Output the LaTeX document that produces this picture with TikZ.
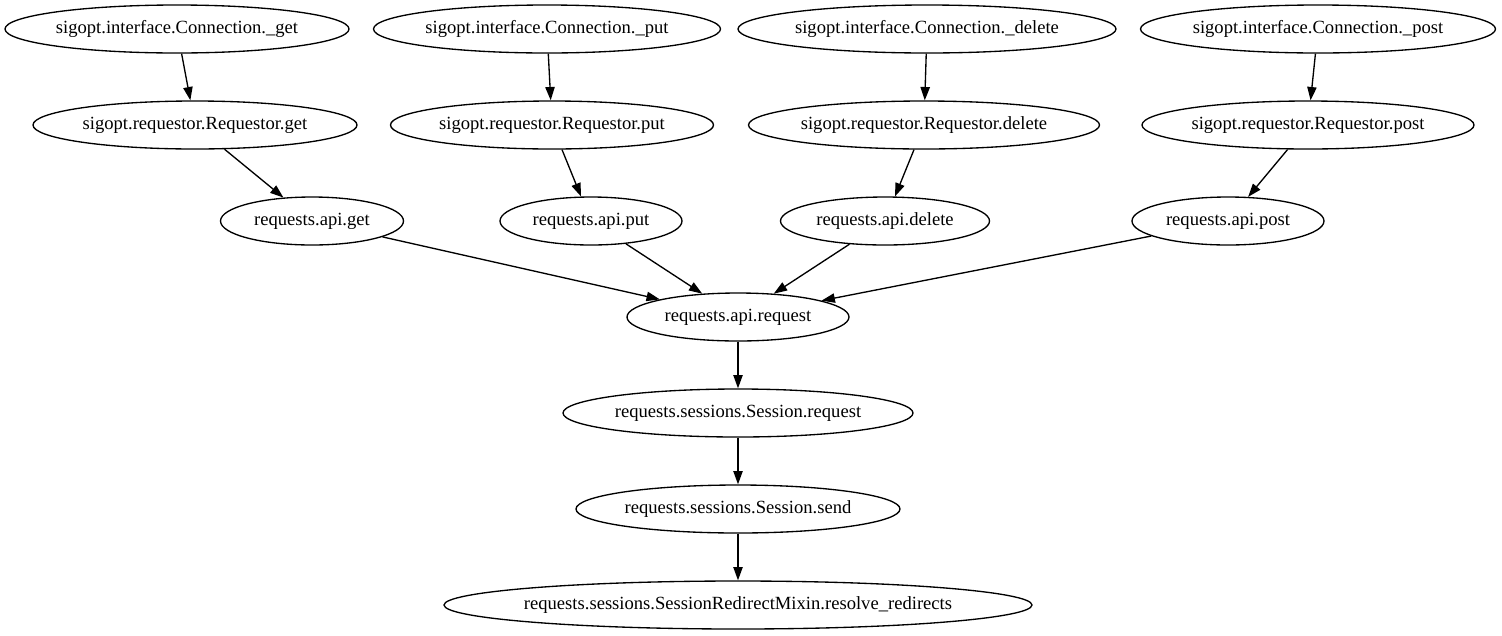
\documentclass[tikz,border=0pt]{standalone}
\usepackage{fontspec}
\setmainfont{Liberation Serif}
\usetikzlibrary{shapes.geometric,arrows.meta}

\begin{document}
\begin{tikzpicture}[x=0.75bp, y=-0.75bp,
        call/.style={draw, ellipse, line width=1bp, minimum height=36bp,
            minimum width=#1*0.75bp, inner xsep=-20bp, inner ysep=0pt,
            font=\fontsize{14}{16}\selectfont},
        edge/.style={line width=1bp, -{Triangle[length=10bp,width=7bp]}}]
        \useasboundingbox (0,0) rectangle (1502,635);

        \node[call=344] (c_get) at (177, 29) {sigopt.interface.Connection.\_get};
        \node[call=347] (c_put) at (547, 29) {sigopt.interface.Connection.\_put};
        \node[call=378] (c_delete) at (927, 29) {sigopt.interface.Connection.\_delete};
        \node[call=355] (c_post) at (1318, 29) {sigopt.interface.Connection.\_post};

        \node[call=324] (r_get) at (195, 125) {sigopt.requestor.Requestor.get};
        \node[call=323] (r_put) at (552, 125) {sigopt.requestor.Requestor.put};
        \node[call=351] (r_delete) at (924, 125) {sigopt.requestor.Requestor.delete};
        \node[call=332] (r_post) at (1308, 125) {sigopt.requestor.Requestor.post};

        \node[call=183] (a_get) at (312, 221) {requests.api.get};
        \node[call=182] (a_put) at (591, 221) {requests.api.put};
        \node[call=209] (a_delete) at (885, 221) {requests.api.delete};
        \node[call=192] (a_post) at (1228, 221) {requests.api.post};

        \node[call=222] (a_request) at (738, 317) {requests.api.request};
        \node[call=350] (s_request) at (738, 413) {requests.sessions.Session.request};
        \node[call=324] (s_send) at (738, 509) {requests.sessions.Session.send};
        \node[call=588] (s_resolve) at (738, 605) {requests.sessions.SessionRedirectMixin.resolve\_redirects};

        \draw[edge] (c_get) -- (r_get);
        \draw[edge] (c_put) -- (r_put);
        \draw[edge] (c_delete) -- (r_delete);
        \draw[edge] (c_post) -- (r_post);

        \draw[edge] (r_get) -- (a_get);
        \draw[edge] (r_put) -- (a_put);
        \draw[edge] (r_delete) -- (a_delete);
        \draw[edge] (r_post) -- (a_post);

        \draw[edge] (a_get) -- (a_request);
        \draw[edge] (a_put) -- (a_request);
        \draw[edge] (a_delete) -- (a_request);
        \draw[edge] (a_post) -- (a_request);

        \draw[edge] (a_request) -- (s_request);
        \draw[edge] (s_request) -- (s_send);
        \draw[edge] (s_send) -- (s_resolve);
    \end{tikzpicture}
\end{document}
